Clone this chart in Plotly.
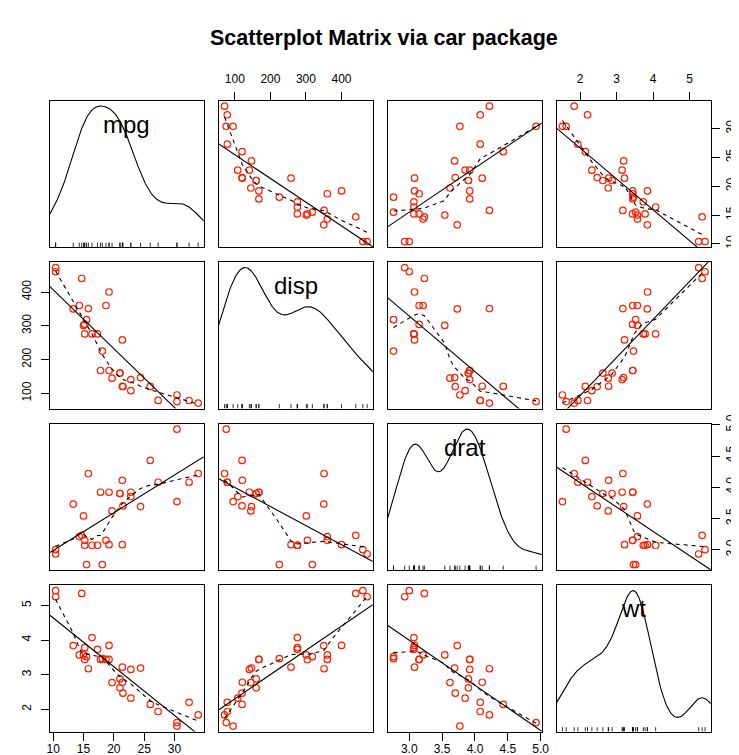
import numpy as np
import plotly.graph_objects as go

# ---- data (mtcars) ----
var_names = ["mpg", "disp", "drat", "wt"]
mpg = [21.0, 21.0, 22.8, 21.4, 18.7, 18.1, 14.3, 24.4, 22.8, 19.2, 17.8, 16.4, 17.3, 15.2,
       10.4, 10.4, 14.7, 32.4, 30.4, 33.9, 21.5, 15.5, 15.2, 13.3, 19.2, 27.3, 26.0, 30.4,
       15.8, 19.7, 15.0, 21.4]
disp = [160.0, 160.0, 108.0, 258.0, 360.0, 225.0, 360.0, 146.7, 140.8, 167.6, 167.6, 275.8,
        275.8, 275.8, 472.0, 460.0, 440.0, 78.7, 75.7, 71.1, 120.1, 318.0, 304.0, 350.0,
        400.0, 79.0, 120.3, 95.1, 351.0, 145.0, 301.0, 121.0]
drat = [3.90, 3.90, 3.85, 3.08, 3.15, 2.76, 3.21, 3.69, 3.92, 3.92, 3.92, 3.07, 3.07, 3.07,
        2.93, 3.00, 3.23, 4.08, 4.93, 4.22, 3.70, 2.76, 3.15, 3.73, 3.08, 4.08, 4.43, 3.77,
        4.22, 3.62, 3.54, 4.11]
wt = [2.620, 2.875, 2.320, 3.215, 3.440, 3.460, 3.570, 3.190, 3.150, 3.440, 3.440, 4.070,
      3.730, 3.780, 5.250, 5.424, 5.345, 2.200, 1.615, 1.835, 2.465, 3.520, 3.435, 3.840,
      3.845, 1.935, 2.140, 1.513, 3.170, 2.770, 3.570, 2.780]

mpg_ticks = [10, 15, 20, 25, 30]
mpg_tick_labels = ["10", "15", "20", "25", "30"]
disp_ticks = [100, 200, 300, 400]
disp_tick_labels = ["100", "200", "300", "400"]
drat_ticks = [3.0, 3.5, 4.0, 4.5, 5.0]
drat_tick_labels = ["3.0", "3.5", "4.0", "4.5", "5.0"]
wt_ticks = [2, 3, 4, 5]
wt_tick_labels = ["2", "3", "4", "5"]

title_text = "Scatterplot Matrix via car package"

data = [np.array(mpg), np.array(disp), np.array(drat), np.array(wt)]
ticks = [(mpg_ticks, mpg_tick_labels), (disp_ticks, disp_tick_labels),
         (drat_ticks, drat_tick_labels), (wt_ticks, wt_tick_labels)]


def ext_range(v):
    lo, hi = float(v.min()), float(v.max())
    d = 0.04 * (hi - lo)
    return [lo - d, hi + d]


def density_curve(v):
    v = np.asarray(v, float)
    n = len(v)
    sd = v.std(ddof=1)
    q75, q25 = np.percentile(v, [75, 25])
    lo = min(sd, (q75 - q25) / 1.34)
    bw = 0.9 * lo * n ** -0.2
    gx = np.linspace(v.min() - 3 * bw, v.max() + 3 * bw, 512)
    d = np.exp(-0.5 * ((gx[:, None] - v[None, :]) / bw) ** 2).sum(1) / (n * bw * np.sqrt(2 * np.pi))
    gy = v.min() + d * (v.max() - v.min()) / (d.max() - d.min())
    return gx, gy


def lowess(xin, yin, f=0.5, iterations=3):
    o = np.argsort(xin, kind="stable")
    xs_ = np.asarray(xin, float)[o]
    ys_ = np.asarray(yin, float)[o]
    n = len(xs_)
    x = np.concatenate([[0.0], xs_])
    y = np.concatenate([[0.0], ys_])
    ns = max(2, min(n, int(f * n + 1e-7)))
    delta = 0.01 * (xs_[-1] - xs_[0])
    ys = np.zeros(n + 1)
    rw = np.zeros(n + 1)
    res = np.zeros(n + 1)
    w = np.zeros(n + 1)

    def lowest(xsv, nleft, nright, userw):
        rng = x[n] - x[1]
        h = max(xsv - x[nleft], x[nright] - xsv)
        h9 = 0.999 * h
        h1 = 0.001 * h
        a = 0.0
        j = nleft
        while j <= n:
            w[j] = 0.0
            r = abs(x[j] - xsv)
            if r <= h9:
                if r <= h1:
                    w[j] = 1.0
                else:
                    w[j] = (1 - (r / h) ** 3) ** 3
                if userw:
                    w[j] *= rw[j]
                a += w[j]
            elif x[j] > xsv:
                break
            j += 1
        nrt = j - 1
        if a <= 0:
            return None
        for j in range(nleft, nrt + 1):
            w[j] /= a
        if h > 0:
            a = 0.0
            for j in range(nleft, nrt + 1):
                a += w[j] * x[j]
            b = xsv - a
            c = 0.0
            for j in range(nleft, nrt + 1):
                c += w[j] * (x[j] - a) ** 2
            if np.sqrt(c) > 0.001 * rng:
                b /= c
                for j in range(nleft, nrt + 1):
                    w[j] *= (b * (x[j] - a) + 1)
        val = 0.0
        for j in range(nleft, nrt + 1):
            val += w[j] * y[j]
        return val

    it = 1
    while it <= iterations + 1:
        nleft, nright, last, i = 1, ns, 0, 1
        while True:
            if nright < n:
                d1 = x[i] - x[nleft]
                d2 = x[nright + 1] - x[i]
                if d1 > d2:
                    nleft += 1
                    nright += 1
                    continue
            v = lowest(x[i], nleft, nright, it > 1)
            ys[i] = y[i] if v is None else v
            if last < i - 1:
                denom = x[i] - x[last]
                for j in range(last + 1, i):
                    alpha = (x[j] - x[last]) / denom
                    ys[j] = alpha * ys[i] + (1 - alpha) * ys[last]
            last = i
            cut = x[last] + delta
            i = last + 1
            while i <= n:
                if x[i] > cut:
                    break
                if x[i] == x[last]:
                    ys[i] = ys[last]
                    last = i
                i += 1
            i = max(last + 1, i - 1)
            if last >= n:
                break
        for k in range(1, n + 1):
            res[k] = y[k] - ys[k]
        sc = np.abs(res[1:]).sum() / n
        if it > iterations:
            break
        ar = np.sort(np.abs(res[1:]))
        m1 = n // 2
        if n % 2 == 0:
            m2 = n - m1 - 1
            cmad = 3.0 * (ar[m1] + ar[m2])
        else:
            cmad = 6.0 * ar[m1]
        if cmad < 1e-7 * sc:
            break
        c9, c1 = 0.999 * cmad, 0.001 * cmad
        for k in range(1, n + 1):
            r = abs(res[k])
            if r <= c1:
                rw[k] = 1.0
            elif r <= c9:
                rw[k] = (1 - (r / cmad) ** 2) ** 2
            else:
                rw[k] = 0.0
        it += 1
    return xs_, ys[1:]


# ---- layout geometry (pixels) ----
W, H = 739, 755
col_left = [39.5, 211.0, 382.5, 554.0]
panel_w = 156.3
row_top = [85.0, 248.9, 412.8, 576.7]
panel_h = 148.4

FONT = "Liberation Sans, Arial, Helvetica, sans-serif"
fig = go.Figure()
layout = dict(
    width=W, height=H, margin=dict(l=0, r=0, t=0, b=0),
    paper_bgcolor="white", plot_bgcolor="white", showlegend=False,
    font=dict(family=FONT, size=12, color="black"),
)
annotations = []
TL = 8

k = 0
for i in range(4):
    for j in range(4):
        k += 1
        xa = "xaxis" if k == 1 else f"xaxis{k}"
        ya = "yaxis" if k == 1 else f"yaxis{k}"
        xr = ext_range(data[j])
        yr = ext_range(data[i])
        x0 = col_left[j] / W
        x1 = (col_left[j] + panel_w) / W
        y1 = 1 - row_top[i] / H
        y0 = 1 - (row_top[i] + panel_h) / H
        xax = dict(domain=[x0, x1], range=xr, anchor=f"y{k}" if k > 1 else "y",
                   showgrid=False, zeroline=False, showline=True, mirror=True,
                   linecolor="black", linewidth=1, ticks="", showticklabels=False,
                   fixedrange=True)
        yax = dict(domain=[y0, y1], range=yr, anchor=f"x{k}" if k > 1 else "x",
                   showgrid=False, zeroline=False, showline=True, mirror=True,
                   linecolor="black", linewidth=1, ticks="", showticklabels=False,
                   fixedrange=True)
        common = dict(ticks="outside", ticklen=TL, tickwidth=1, tickcolor="black",
                      showticklabels=True, tickfont=dict(size=12, color="black"))
        if i == 0 and j in (1, 3):
            xax.update(side="top", tickvals=ticks[j][0], ticktext=ticks[j][1],
                       ticklabelstandoff=4, **common)
        if i == 3 and j in (0, 2):
            xax.update(side="bottom", tickvals=ticks[j][0], ticktext=ticks[j][1],
                       ticklabelstandoff=-2, **common)
        if j == 0 and i in (1, 3):
            yax.update(side="left", tickvals=ticks[i][0], ticktext=ticks[i][1],
                       tickangle=-90, ticklabelstandoff=5, **common)
        if j == 3 and i in (0, 2):
            yax.update(side="right", tickvals=ticks[i][0], ticktext=ticks[i][1],
                       tickangle=-90, ticklabelstandoff=1, **common)
        layout[xa] = xax
        layout[ya] = yax
        xref = "x" if k == 1 else f"x{k}"
        yref = "y" if k == 1 else f"y{k}"

        if i == j:
            v = data[i]
            gx, gy = density_curve(v)
            fig.add_trace(go.Scatter(x=gx, y=gy, mode="lines", xaxis=xref, yaxis=yref,
                                     line=dict(color="black", width=1.1), hoverinfo="skip"))
            rx, ry = [], []
            base = yr[0]
            top = yr[0] + 0.03 * (yr[1] - yr[0])
            for val in v:
                rx += [val, val, None]
                ry += [base, top, None]
            fig.add_trace(go.Scatter(x=rx, y=ry, mode="lines", xaxis=xref, yaxis=yref,
                                     line=dict(color="black", width=0.8), hoverinfo="skip"))
            annotations.append(dict(
                x=(col_left[j] + panel_w / 2) / W, y=1 - (row_top[i] + 24) / H,
                xref="paper", yref="paper", text=var_names[i], showarrow=False,
                xanchor="center", yanchor="middle",
                font=dict(family=FONT, size=24, color="black")))
        else:
            xv, yv = data[j], data[i]
            fig.add_trace(go.Scatter(x=xv, y=yv, mode="markers", xaxis=xref, yaxis=yref,
                                     marker=dict(symbol="circle-open", size=6.5, color="#ff2000",
                                                 line=dict(width=1.2)),
                                     hoverinfo="skip"))
            b, a = np.polyfit(xv, yv, 1)
            lx = np.array(xr)
            fig.add_trace(go.Scatter(x=lx, y=a + b * lx, mode="lines", xaxis=xref, yaxis=yref,
                                     line=dict(color="black", width=1.1), hoverinfo="skip"))
            sx, sy = lowess(xv, yv, f=0.5, iterations=3)
            fig.add_trace(go.Scatter(x=sx, y=sy, mode="lines", xaxis=xref, yaxis=yref,
                                     line=dict(color="black", width=1.1, dash="4px,4px"),
                                     hoverinfo="skip"))

annotations.append(dict(
    x=379 / W, y=1 - 21 / H, xref="paper", yref="paper", text=f"<b>{title_text}</b>",
    showarrow=False, xanchor="center", yanchor="middle",
    font=dict(family=FONT, size=21.5, color="black")))
layout["annotations"] = annotations
fig.update_layout(**layout)
fig.write_html("out.html")
